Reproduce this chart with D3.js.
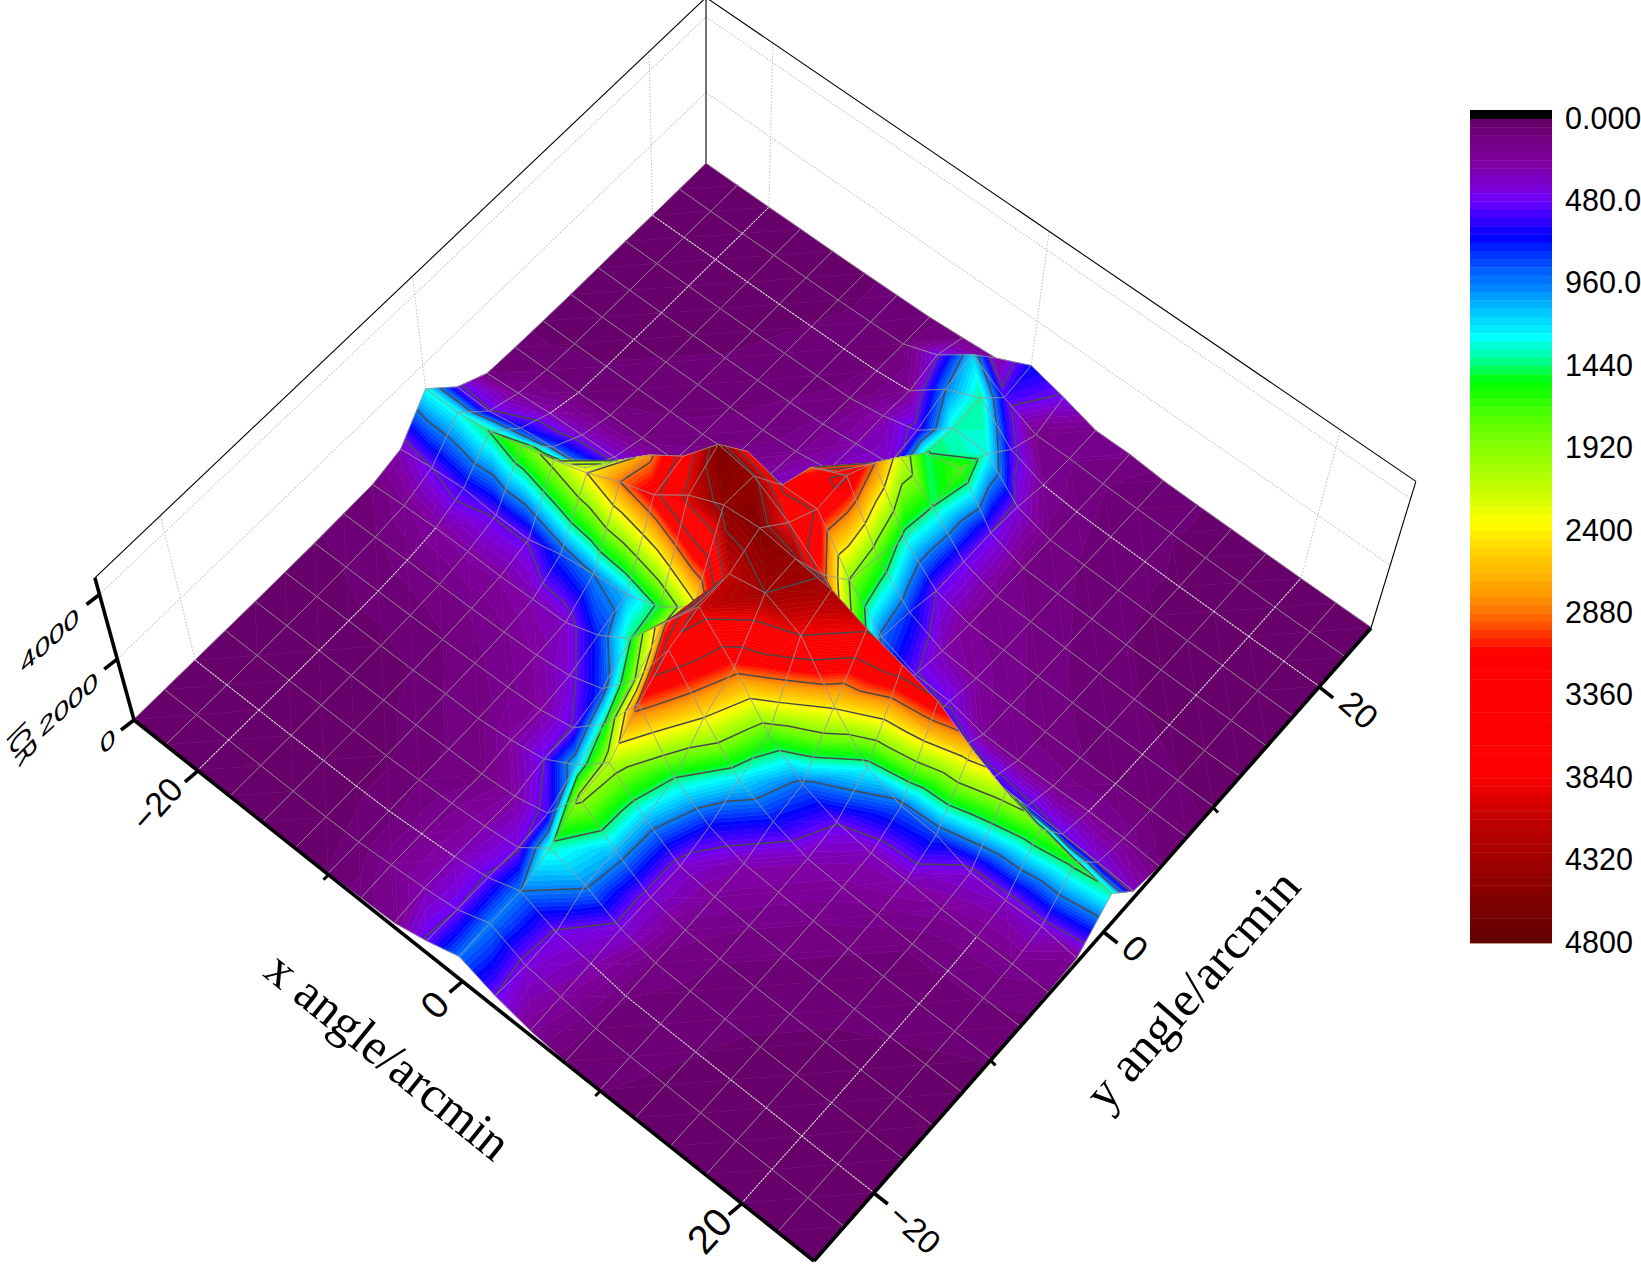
<!DOCTYPE html>
<html><head><meta charset="utf-8">
<script src="https://cdn.jsdelivr.net/npm/d3@7"></script>
<style>html,body{margin:0;background:#fff}svg{display:block}text{fill:#000}</style>
</head><body><svg id="c" width="1641" height="1265"></svg>
<script>
// ---- data: z (counts) on the 21 x 21 mesh, one row per y value, x running left to right
const xValues = d3.range(-25, 25.1, 2.5);
const yValues = d3.range(-25, 25.1, 2.5);
const zByY = [
[20,20,20,20,20,30,50,120,180,500,920,480,200,70,50,40,30,20,20,20,20],
[20,20,20,20,20,30,60,180,300,480,950,400,250,90,60,40,30,20,20,20,20],
[20,20,20,20,30,40,70,180,300,500,960,450,300,100,70,50,40,30,20,20,20],
[20,20,20,30,30,40,90,170,280,450,1350,1000,400,130,85,60,40,30,20,20,20],
[20,30,30,30,40,60,100,130,250,560,2000,1100,380,170,100,75,60,40,30,30,30],
[30,30,40,40,50,100,120,250,480,1150,2100,1130,380,230,150,100,80,60,50,40,40],
[40,50,60,70,90,130,170,250,500,1500,3000,1440,680,300,220,150,100,80,70,60,50],
[70,90,120,130,150,180,250,400,800,1920,3700,2400,1200,680,300,220,170,100,100,100,80],
[100,180,240,260,250,300,350,750,1440,2750,4050,3000,1700,900,500,320,300,220,180,170,130],
[320,480,580,500,500,800,960,1100,1500,2300,4100,4320,3840,2450,1300,880,800,400,350,380,200],
[1300,1300,1450,1750,2050,2400,2880,3240,3980,4450,4540,4400,4270,3890,3600,3300,2620,2100,1750,1540,1380],
[520,500,700,850,950,1900,2800,3500,4570,4400,3790,3000,1800,800,600,700,600,550,480,420,340],
[100,200,300,350,400,400,500,800,3500,3250,3300,1900,900,500,450,200,180,180,200,180,100],
[60,80,90,110,130,180,250,400,1300,2900,3400,1700,750,300,220,160,120,100,90,80,60],
[40,40,50,70,90,110,170,280,450,1900,2900,1350,480,200,170,130,90,70,60,50,40],
[30,30,40,50,70,90,110,180,350,500,2200,1440,480,170,140,100,70,50,40,30,30],
[30,30,30,40,50,70,100,160,280,400,1450,1700,480,140,110,80,50,40,30,30,20],
[30,30,30,30,40,60,80,110,280,550,1350,1300,400,120,90,70,40,30,30,20,20],
[20,20,30,30,40,50,70,100,200,950,1400,560,200,110,80,60,40,30,20,20,20],
[20,20,20,30,30,40,60,90,450,1150,570,150,150,100,70,50,40,30,20,20,20],
[20,20,20,30,30,40,60,80,150,230,700,450,150,150,70,50,40,30,20,20,20]
];
const xMajorTicks = [-20, 0, 20], xMinorTicks = [-10, 10];
const yMajorTicks = [-20, 0, 20], yMinorTicks = [-10, 10];
const zTicks = [0, 2000, 4000];
const contourLevels = [480, 960, 1440, 1920, 2400, 2880, 3360, 3840, 4320];
const legendLabels = ["0.000","480.0","960.0","1440","1920","2400","2880","3360","3840","4320","4800"];
const colorStops = [0,255,400,485,688,812,1008,1139,1270,1401,1532,1794,2121,2350,2547,2776,2940,3104,3824,4086,4800];
const colorValues = ["#660066","#8000a0","#7c00d8","#6a00ff","#0000ff","#0040ff","#0090ff","#00ccff","#00ffff","#00ff99","#00ff00","#66ff00","#bbff00","#ffff00","#ffcc00","#ff9900","#ff5500","#ff0000","#ff0000","#c00000","#600000"];
const flippedCells = ["8,12"]; // mesh cells whose crease runs the other way

// ---- view: perspective projection of the plot box
const corner = {L:[134,720],F:[814,1261],R:[1371,628],B:[706,164]};
const nadir = [706,2800], zTop = 4500, zPersp = 0.064;
const xS = d3.scaleLinear().domain([-25,25]).range([0,1]);
const yS = d3.scaleLinear().domain([-25,25]).range([0,1]);
const zMax = 4800, bandStep = 48;
const colorRamp = d3.scaleLinear().domain(colorStops).range(colorValues);
const bandColor = k => colorRamp((k+0.5)*bandStep);

const H = (()=>{ // unit square -> floor quad
  const [x0,y0]=corner.L,[x1,y1]=corner.F,[x2,y2]=corner.R,[x3,y3]=corner.B;
  const dx1=x1-x2,dx2=x3-x2,sx=x0-x1+x2-x3,dy1=y1-y2,dy2=y3-y2,sy=y0-y1+y2-y3;
  const det=dx1*dy2-dx2*dy1,g=(sx*dy2-dx2*sy)/det,h=(dx1*sy-sx*dy1)/det;
  return {a:x1-x0+g*x1,b:x3-x0+h*x3,c:x0,d:y1-y0+g*y1,e:y3-y0+h*y3,f:y0,g,h};
})();
function project(u,v,z){
  const w=1+H.g*u+H.h*v;
  const X=(H.a*u+H.b*v+H.c)/w, Y=(H.d*u+H.e*v+H.f)/w;
  const s=1/(1-zPersp*(z/zTop)/w);
  return [nadir[0]+(X-nadir[0])*s, nadir[1]+(Y-nadir[1])*s];
}
const P=(x,y,z)=>project(xS(x),yS(y),z);

const svg=d3.select("#c");

// ---- walls
const walls=svg.append("g").attr("fill","none");
const wallGrid=(a,b)=>walls.append("line").attr("x1",a[0]).attr("y1",a[1]).attr("x2",b[0]).attr("y2",b[1])
  .attr("stroke","#c8c8c8").attr("stroke-width",1.1).attr("stroke-dasharray","1.6 1.6");
[-20,0,20].forEach(t=>{
  wallGrid(P(-25,t,0),P(-25,t,zTop));
  wallGrid(P(t,25,0),P(t,25,zTop));
});
[2000,4000].forEach(t=>{
  wallGrid(P(-25,-25,t),P(-25,25,t));
  wallGrid(P(-25,25,t),P(25,25,t));
});
const thin=(a,b,sw)=>svg.append("line").attr("x1",a[0]).attr("y1",a[1]).attr("x2",b[0]).attr("y2",b[1]).attr("stroke","#000").attr("stroke-width",sw);
[[P(-25,-25,zTop),P(-25,25,zTop)],[P(-25,25,zTop),P(25,25,zTop)],[P(-25,25,0),P(-25,25,zTop)],[P(25,25,0),P(25,25,zTop)]]
  .forEach(e=>thin(e[0],e[1],1.1));

// ---- surface: each mesh cell is two flat triangles, cut into colour bands
const N=xValues.length-1;
const surf=svg.append("g");
const vtx=(i,j)=>[xS(xValues[i]),yS(yValues[j]),zByY[j][i]];
const lerp=(a,b,t)=>[a[0]+t*(b[0]-a[0]),a[1]+t*(b[1]-a[1]),a[2]+t*(b[2]-a[2])];
function clip(poly,level,above){
  const out=[];
  poly.forEach((a,k)=>{
    const b=poly[(k+1)%poly.length];
    const ia=above?a[2]>=level:a[2]<=level, ib=above?b[2]>=level:b[2]<=level;
    if(ia) out.push(a);
    if(ia!==ib) out.push(lerp(a,b,(level-a[2])/(b[2]-a[2])));
  });
  return out;
}
function drawTriangle(g,tri){
  const zs=tri.map(p=>p[2]);
  const lo=Math.floor(d3.min(zs)/bandStep),hi=Math.floor(d3.max(zs)/bandStep);
  for(let k=lo;k<=hi;k++){
    let poly=clip(tri,k*bandStep,true);
    if(poly.length) poly=clip(poly,(k+1)*bandStep,false);
    if(poly.length<3) continue;
    const p=d3.path();
    poly.forEach((q,n)=>{const r=project(q[0],q[1],q[2]); n?p.lineTo(r[0],r[1]):p.moveTo(r[0],r[1]);});
    p.closePath();
    const c=bandColor(k);
    g.append("path").attr("d",p.toString()).attr("fill",c).attr("stroke",c).attr("stroke-width",0.6);
  }
}
function triContours(cp,tri){
  contourLevels.forEach(l0=>{
    const l=l0+0.5,hits=[];
    tri.forEach((a,k)=>{
      const b=tri[(k+1)%3];
      if((a[2]-l)*(b[2]-l)<0){const q=lerp(a,b,(l-a[2])/(b[2]-a[2]));hits.push(project(q[0],q[1],q[2]));}
    });
    if(hits.length===2){cp.moveTo(hits[0][0],hits[0][1]);cp.lineTo(hits[1][0],hits[1][1]);}
  });
}
for(let i=0;i<N;i++){
  for(let j=N-1;j>=0;j--){
    const g=surf.append("g");
    const a=vtx(i,j),b=vtx(i+1,j),c=vtx(i+1,j+1),d=vtx(i,j+1);
    const flip=flippedCells.includes(i+","+j);
    const tris=(Math.abs(a[2]-c[2])<=Math.abs(b[2]-d[2]))!==flip ? [[a,c,d],[a,b,c]] : [[b,c,d],[a,b,d]];
    tris.forEach(t=>drawTriangle(g,t));
    const cp=d3.path();
    tris.forEach(t=>triContours(cp,t));
    const cs=cp.toString();
    if(cs) g.append("path").attr("d",cs).attr("fill","none").attr("stroke","#4a4a4a").attr("stroke-width",1.5);
    const mp=d3.path();
    [a,b,c,d].forEach((q,n)=>{const r=project(q[0],q[1],q[2]); n?mp.lineTo(r[0],r[1]):mp.moveTo(r[0],r[1]);});
    mp.closePath();
    g.append("path").attr("d",mp.toString()).attr("fill","none").attr("stroke","#999").attr("stroke-opacity",0.75).attr("stroke-width",1);
  }
}
// floor grid lines, seen only where the surface is low
const dotted=svg.append("g").attr("fill","none").attr("stroke","#eadcea").attr("stroke-width",1.1).attr("stroke-dasharray","1.6 1.6");
const lowZ=300;
[-20,20].forEach(t=>{
  const ix=xValues.indexOf(t), iy=yValues.indexOf(t);
  for(let k=0;k<N;k++){
    if(zByY[k][ix]<=lowZ&&zByY[k+1][ix]<=lowZ){
      const a=P(t,yValues[k],zByY[k][ix]),b=P(t,yValues[k+1],zByY[k+1][ix]);
      dotted.append("line").attr("x1",a[0]).attr("y1",a[1]).attr("x2",b[0]).attr("y2",b[1]);
    }
    if(zByY[iy][k]<=lowZ&&zByY[iy][k+1]<=lowZ){
      const a=P(xValues[k],t,zByY[iy][k]),b=P(xValues[k+1],t,zByY[iy][k+1]);
      dotted.append("line").attr("x1",a[0]).attr("y1",a[1]).attr("x2",b[0]).attr("y2",b[1]);
    }
  }
});

// ---- axes
thin(P(-25,-25,0),P(25,-25,0),3.6);
thin(P(25,-25,0),P(25,25,0),3.6);
thin(P(-25,-25,0),P(-25,-25,zTop),3.6);
const tick=(p,dx,dy,sw)=>thin(p,[p[0]+dx,p[1]+dy],sw);
xMajorTicks.forEach(t=>tick(P(t,-25,0),-13,11,3.6));
xMinorTicks.forEach(t=>tick(P(t,-25,0),-5,5,3));
yMajorTicks.forEach(t=>tick(P(25,t,0),14,11,3.6));
yMinorTicks.forEach(t=>tick(P(25,t,0),5,5,3));
zTicks.forEach(t=>tick(P(-25,-25,t),-13,10,3.6));

const lab=(str,x,y,tf,fs,fam)=>svg.append("text").text(str)
  .attr("transform",`translate(${x},${y}) ${tf}`).attr("text-anchor","middle").attr("dominant-baseline","middle")
  .attr("font-family",fam||"Liberation Sans").attr("font-size",fs);
const xLabelPos={"-20":[159,806,34],"0":[437,1007,38],"20":[712,1233,40]};
xMajorTicks.forEach(t=>{const p=xLabelPos[t];lab(t<0?"\u2212"+(-t):String(t),p[0],p[1],"rotate(-48)",p[2]);});
const yLabelPos={"-20":[913,1231,33],"0":[1133,951,36],"20":[1357,712,34]};
yMajorTicks.forEach(t=>{const p=yLabelPos[t];lab(t<0?"\u2212"+(-t):String(t),p[0],p[1],"rotate(42)",p[2]);});
const zLabelPos={0:[108,743],2000:[69,706],4000:[50,642]};
zTicks.forEach(t=>{const p=zLabelPos[t];lab(String(t),p[0],p[1],"rotate(-42) skewX(-32) scale(1.45,0.85)",24);});
{ // the z title, sheared by the view
  const sx=0.52,ang=65*Math.PI/180,up=45*Math.PI/180;
  svg.append("text").text("ICR").attr("text-anchor","middle").attr("dominant-baseline","middle")
    .attr("font-family","Liberation Sans").attr("font-size",38)
    .attr("transform",`matrix(${Math.cos(ang)*sx},${Math.sin(ang)*sx},${-Math.sin(up)},${Math.cos(up)},20,746)`);
}
lab("x angle/arcmin",385,1060,"rotate(39)",50,"Liberation Serif");
lab("y angle/arcmin",1196,993,"rotate(-49)",50,"Liberation Serif");

// ---- colour legend
const legY=d3.scaleLinear().domain([0,zMax]).range([119,943]);
const leg=svg.append("g");
leg.append("rect").attr("x",1470).attr("y",110).attr("width",82).attr("height",legY(0)-110).attr("fill","#000");
d3.range(0,zMax/bandStep).forEach(k=>{
  leg.append("rect").attr("x",1470).attr("width",82).attr("y",legY(k*bandStep)).attr("height",legY((k+1)*bandStep)-legY(k*bandStep)+0.4).attr("fill",bandColor(k));
});
legendLabels.forEach((s,k)=>{
  leg.append("text").text(s).attr("x",1565).attr("y",legY(k*480)+1.5).attr("dominant-baseline","middle")
    .attr("font-family","Liberation Sans").attr("font-size",30.5);
});
</script></body></html>
